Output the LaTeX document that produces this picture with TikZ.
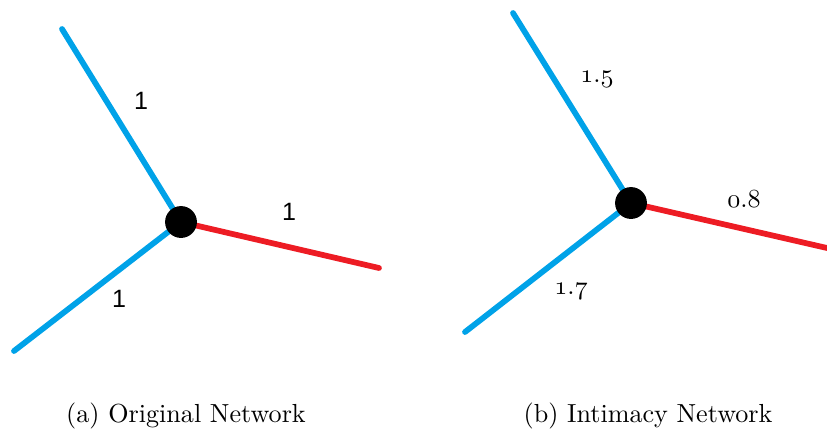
\documentclass[tikz,border=0pt]{standalone}
\usepackage{fontspec}
\newfontfamily\labsans{Liberation Sans}
\newcommand{\osn}[1]{{\fontencoding{OML}\fontfamily{cmm}\fontseries{m}\fontshape{it}\selectfont #1}}
\definecolor{pblue}{RGB}{0,162,232}
\definecolor{pred}{RGB}{237,28,36}
\begin{document}
\begin{tikzpicture}[x=0.383pt,y=-0.383pt,
  edge/.style={line width=2.2pt,line cap=round},
  bedge/.style={edge,draw=pblue},
  redge/.style={edge,draw=pred},
  hub/.style={circle,fill=black,minimum size=12.2pt,inner sep=0pt},
  slab/.style={font=\labsans\fontsize{9.6}{11}\selectfont,inner sep=0pt},
  olab/.style={font=\fontsize{10}{12}\selectfont,inner sep=0pt},
  captext/.style={font=\fontsize{10}{12}\selectfont,inner sep=0pt,anchor=base}]
\useasboundingbox (0,0) rectangle (827,434);
% panel (a)
\coordinate (a1) at (62,29);
\coordinate (a2) at (14,351);
\coordinate (a3) at (379,268);
\coordinate (ac) at (181,222);
\draw[bedge] (a1) -- (ac);
\draw[bedge] (a2) -- (ac);
\draw[redge] (ac) -- (a3);
\node[hub] (ha) at (ac) {};
\node[slab] (la1) at (141,101) {1};
\node[slab] (la2) at (289,212) {1};
\node[slab] (la3) at (119,299) {1};
\node[captext] (capa) at (186,422) {(a) Original Network};
% panel (b)
\coordinate (b1) at (513,13);
\coordinate (b2) at (465,332);
\coordinate (b3) at (827,248);
\coordinate (bc) at (631,203);
\draw[bedge] (b1) -- (bc);
\draw[bedge] (b2) -- (bc);
\draw[redge] (bc) -- (b3);
\node[hub] (hb) at (bc) {};
\node[olab] (lb1) at (597,79) {\osn{1}.\osn{5}};
\node[olab] (lb2) at (744,199) {\osn{0}.\osn{8}};
\node[olab] (lb3) at (571,291) {\osn{1}.\osn{7}};
\node[captext] (capb) at (648,422) {(b) Intimacy Network};
\end{tikzpicture}
\end{document}
